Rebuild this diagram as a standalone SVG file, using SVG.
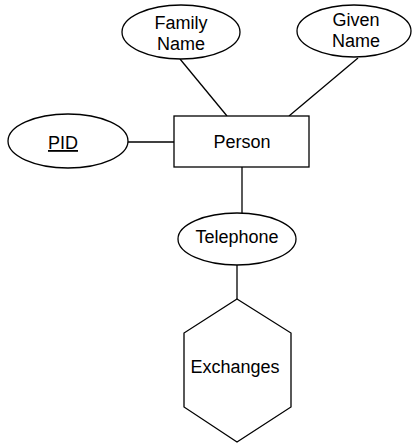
<svg xmlns="http://www.w3.org/2000/svg" width="413" height="444" viewBox="0 0 413 444">
  <style>
    .shape { fill: #ffffff; stroke: #000000; stroke-width: 1.3; }
    .link { stroke: #000000; stroke-width: 1.3; fill: none; }
    .label { font-family: "Liberation Sans", Arial, sans-serif; font-size: 18px; fill: #000000; text-anchor: middle; }
  </style>
  <rect width="413" height="444" fill="#ffffff"/>
  <g id="connectors">
    <line class="link" x1="180" y1="59" x2="227" y2="116"/>
    <line class="link" x1="358" y1="58" x2="289" y2="116"/>
    <line class="link" x1="128" y1="142" x2="174" y2="142"/>
    <line class="link" x1="242" y1="167" x2="242" y2="213"/>
    <line class="link" x1="237" y1="265" x2="237" y2="299"/>
  </g>
  <g id="family-name">
    <ellipse class="shape" cx="181" cy="32" rx="59" ry="27"/>
    <text class="label" x="181" y="29">Family</text>
    <text class="label" x="181" y="50">Name</text>
  </g>
  <g id="given-name">
    <ellipse class="shape" cx="354" cy="31" rx="57" ry="26"/>
    <text class="label" x="356" y="26">Given</text>
    <text class="label" x="356" y="47">Name</text>
  </g>
  <g id="pid">
    <ellipse class="shape" cx="68" cy="141" rx="60" ry="27"/>
    <text class="label" x="63" y="149" text-decoration="underline">PID</text>
  </g>
  <g id="person">
    <rect class="shape" x="174" y="116" width="135" height="51"/>
    <text class="label" x="242" y="148">Person</text>
  </g>
  <g id="telephone">
    <ellipse class="shape" cx="237" cy="239" rx="59" ry="26"/>
    <text class="label" x="237" y="243">Telephone</text>
  </g>
  <g id="exchanges">
    <polygon class="shape" points="237,299 291,333 291,407 237,442 184,407 184,333"/>
    <text class="label" x="235" y="373">Exchanges</text>
  </g>
</svg>
